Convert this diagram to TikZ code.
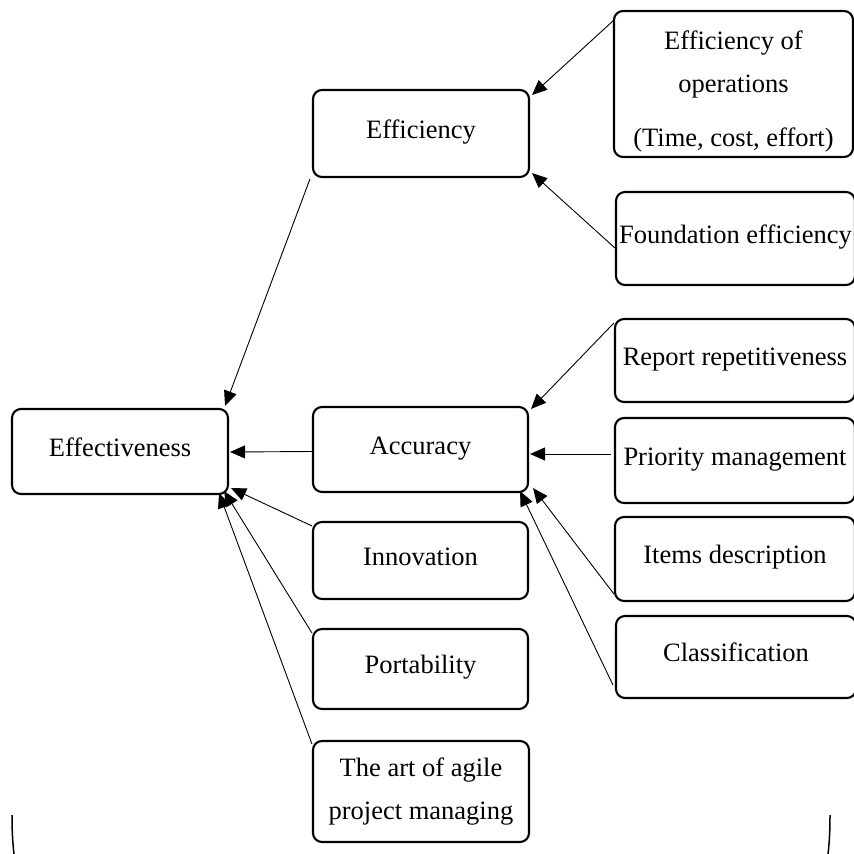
\documentclass[tikz,border=0pt]{standalone}
\usepackage{fontspec}
\setmainfont{Liberation Serif}
\usetikzlibrary{arrows.meta,calc}
\begin{document}
\begin{tikzpicture}[x=1pt,y=-1pt,
  bx/.style={draw, line width=2.1pt, rounded corners=9pt, fill=white, align=center,
    font=\fontsize{26.5}{43}\selectfont, inner sep=0pt},
  sbx/.style={bx, text height=15pt, text depth=6pt},
  arr/.style={line width=0.9pt, -{Triangle[length=15pt,width=13pt]}}]
\useasboundingbox (0,0) rectangle (854,854);
\clip (0,0) rectangle (854,854);
% left column
\node[sbx, minimum width=216pt, minimum height=85pt] (effv) at (120,451.5) {Effectiveness};
% middle column
\node[sbx, minimum width=216pt, minimum height=87pt] (effy) at (421,133.5) {Efficiency};
\node[sbx, minimum width=215pt, minimum height=85pt] (acc) at (420.5,449.5) {Accuracy};
\node[sbx, minimum width=215pt, minimum height=77pt] (inn) at (420.5,560.5) {Innovation};
\node[sbx, minimum width=215pt, minimum height=80pt] (por) at (420.5,669) {Portability};
\node[bx, minimum width=216pt, minimum height=101pt] (art) at (421,791.5) {The art of agile\\project managing};
% right column
\node[bx, minimum width=239pt, minimum height=146pt] (ops) at (733.5,84) {\rule{0pt}{34pt}Efficiency of\\operations\\[11pt](Time, cost, effort)};
\node[sbx, minimum width=239pt, minimum height=93pt] (fnd) at (735.5,238.5) {Foundation efficiency};
\node[sbx, minimum width=240pt, minimum height=83pt] (rep) at (735,360.5) {Report repetitiveness};
\node[sbx, minimum width=240pt, minimum height=85pt] (pri) at (735,460.5) {Priority management};
\node[sbx, minimum width=240pt, minimum height=84pt] (itm) at (735,559) {Items description};
\node[sbx, minimum width=240pt, minimum height=82pt] (cls) at (736,657) {Classification};
% connectors
\draw[arr] ($(effy.south west)+(-2,1)$) -- ($(effv.north east)+(-4,-2)$);
\draw[arr] ($(ops.north west)+(0,11)$) -- ($(effy.north east)+(2,6)$);
\draw[arr] ($(fnd.west)+(0,9.5)$) -- ($(effy.south east)+(2,-5)$);
\draw[arr] ($(acc.west)+(0,2)$) -- ($(effv.east)+(1,0.5)$);
\draw[arr] ($(inn.north west)+(0,5)$) -- ($(effv.south east)+(2,-7)$);
\draw[arr] ($(por.north west)+(0,5)$) -- ($(effv.south east)+(-5,-4)$);
\draw[arr] ($(art.north west)+(0,4)$) -- ($(effv.south east)+(-10,-2)$);
\draw[arr] ($(rep.north west)+(0,5)$) -- ($(acc.north east)+(2,3)$);
\draw[arr] ($(pri.west)+(-3,-6.5)$) -- ($(acc.east)+(1,4.5)$);
\draw[arr] ($(itm.west)+(0,35)$) -- ($(acc.south east)+(4,-5)$);
\draw[arr] ($(cls.west)+(-2,28)$) -- ($(acc.south east)+(-9,-2)$);
% bottom frame pieces
\draw[line width=1.5pt] (12,815) .. controls (12,835) and (13,845) .. (14,854);
\draw[line width=1.5pt] (830,815) .. controls (830,835) and (829,845) .. (828,854);
\end{tikzpicture}
\end{document}
